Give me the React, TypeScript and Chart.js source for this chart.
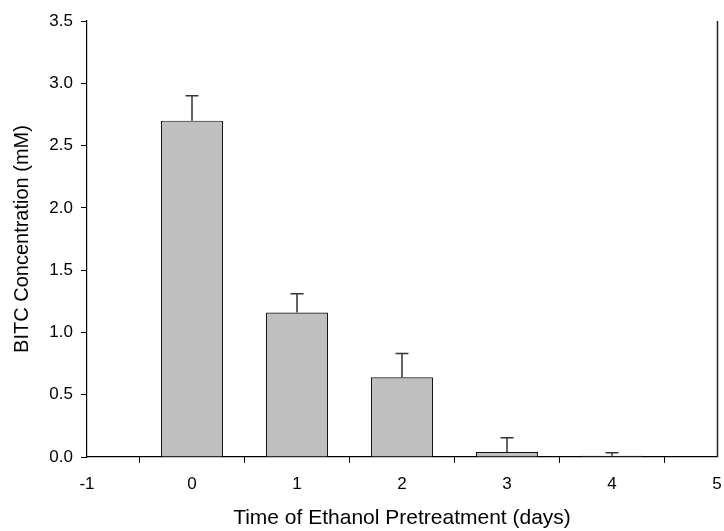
import React, { useEffect, useRef } from "react";
import { Chart, registerables } from "chart.js";

Chart.register(...registerables);

const days = [0, 1, 2, 3, 4];
const bitcMean = [2.7, 1.16, 0.64, 0.04, 0.01];
const bitcError = [0.2, 0.15, 0.19, 0.115, 0.025];
const xTicks = [-1, 0, 1, 2, 3, 4, 5];
const yTicks = [0, 0.5, 1.0, 1.5, 2.0, 2.5, 3.0, 3.5];

const FONT = "Arial, 'Liberation Sans', Helvetica, sans-serif";

const errorBarPlugin = {
  id: "errorBars",
  afterDatasetsDraw(chart: any) {
    const { ctx, scales, chartArea } = chart;
    const xs = scales.x;
    const ys = scales.y;
    ctx.save();
    ctx.strokeStyle = "#333333";
    ctx.lineWidth = 1.5;
    days.forEach((d, i) => {
      const x = xs.getPixelForValue(d);
      const y0 = ys.getPixelForValue(bitcMean[i]);
      const y1 = ys.getPixelForValue(bitcMean[i] + bitcError[i]);
      ctx.beginPath();
      ctx.moveTo(x, y0);
      ctx.lineTo(x, y1);
      ctx.moveTo(x - 6.5, y1);
      ctx.lineTo(x + 6.5, y1);
      ctx.stroke();
    });
    // right frame line
    ctx.strokeStyle = "#222222";
    ctx.lineWidth = 1.5;
    ctx.beginPath();
    ctx.moveTo(Math.round(chartArea.right) + 0.5, chartArea.top);
    ctx.lineTo(Math.round(chartArea.right) + 0.5, chartArea.bottom);
    ctx.stroke();
    ctx.restore();
  },
};

export default function App() {
  const canvasRef = useRef<HTMLCanvasElement | null>(null);

  useEffect(() => {
    if (!canvasRef.current) return;
    const chart = new Chart(canvasRef.current, {
      type: "bar",
      data: {
        datasets: [
          {
            data: days.map((d, i) => ({ x: d, y: bitcMean[i] })),
            backgroundColor: "#c0c0c0",
            borderColor: "#111111",
            borderWidth: 1.2,
            barPercentage: 0.59,
            categoryPercentage: 1,
          },
        ],
      },
      options: {
        responsive: false,
        animation: false,
        devicePixelRatio: 1,
        layout: { padding: { left: 0, right: 7, top: 21, bottom: 0 } },
        plugins: {
          legend: { display: false },
          tooltip: { enabled: false },
        },
        scales: {
          x: {
            type: "linear",
            min: -1,
            max: 5,
            offset: false,
            afterBuildTicks: (scale: any) => {
              scale.ticks = xTicks.map((v) => ({ value: v }));
            },
            afterFit: (scale: any) => {
              scale.height = 74;
              scale.paddingLeft = 0;
              scale.paddingRight = 0;
            },
            ticks: {
              color: "#000000",
              font: { family: FONT, size: 17 },
              padding: 11,
              maxRotation: 0,
              callback: (v: any) => String(v),
            },
            grid: {
              drawOnChartArea: false,
              drawTicks: true,
              tickLength: 6,
              color: "#000000",
            },
            border: { display: true, color: "#000000", width: 1.2 },
            title: {
              display: true,
              text: "Time of Ethanol Pretreatment (days)",
              color: "#000000",
              font: { family: FONT, size: 21 },
              padding: { top: 0, bottom: 0 },
            },
          },
          y: {
            type: "linear",
            min: 0,
            max: 3.5,
            afterBuildTicks: (scale: any) => {
              scale.ticks = yTicks.map((v) => ({ value: v }));
            },
            afterFit: (scale: any) => {
              scale.width = 87;
              scale.paddingTop = 0;
              scale.paddingBottom = 0;
            },
            ticks: {
              color: "#000000",
              font: { family: FONT, size: 17 },
              padding: 8,
              callback: (v: any) => Number(v).toFixed(1),
            },
            grid: {
              drawOnChartArea: false,
              drawTicks: true,
              tickLength: 6,
              color: "#000000",
            },
            border: { display: true, color: "#000000", width: 1.2 },
            title: {
              display: true,
              text: "BITC Concentration (mM)",
              color: "#000000",
              font: { family: FONT, size: 20 },
              padding: { top: 10, bottom: 0 },
            },
          },
        },
      },
      plugins: [errorBarPlugin],
    } as any);
    return () => chart.destroy();
  }, []);

  return (
    <div style={{ position: "fixed", left: 0, top: 0, width: 724, height: 531, background: "#fff" }}>
      <canvas ref={canvasRef} width={724} height={531} />
    </div>
  );
}
